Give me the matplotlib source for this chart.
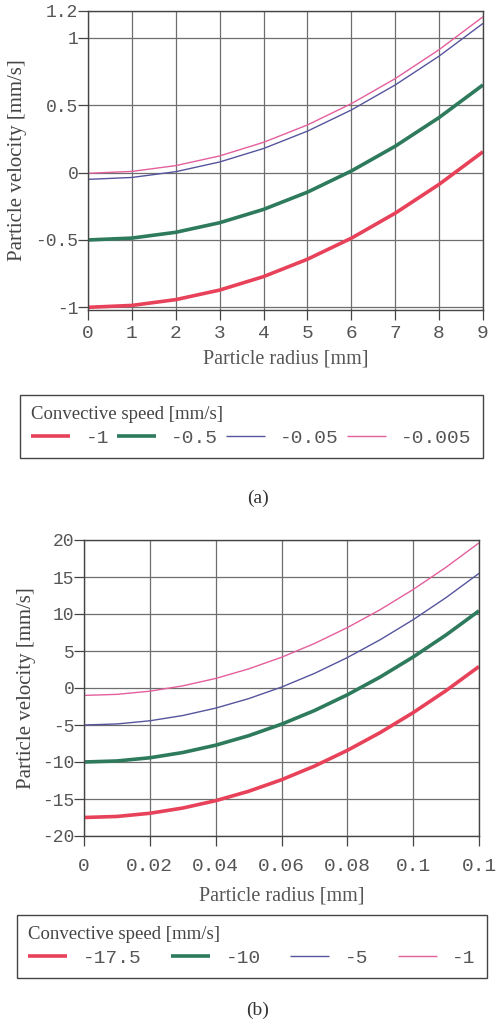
import numpy as np
import matplotlib
matplotlib.use("Agg")
import matplotlib.pyplot as plt

plt.rcParams["axes.unicode_minus"] = False

# ---- data ----
# (a) particle radius [mm] vs particle velocity [mm/s]
radius_a = [0, 1, 2, 3, 4, 5, 6, 7, 8, 9]
speeds_a = ["-1", "-0.5", "-0.05", "-0.005"]
vel_a_1 = [-1.0, -0.986, -0.943, -0.872, -0.772, -0.643, -0.487, -0.301, -0.087, 0.155]
vel_a_05 = [-0.5, -0.486, -0.443, -0.372, -0.273, -0.145, 0.012, 0.196, 0.409, 0.651]
vel_a_005 = [-0.05, -0.036, 0.007, 0.079, 0.179, 0.308, 0.465, 0.651, 0.865, 1.108]
vel_a_0005 = [-0.005, 0.009, 0.052, 0.124, 0.225, 0.354, 0.512, 0.698, 0.913, 1.157]
yticks_a = [-1, -0.5, 0, 0.5, 1, 1.2]
yticklabels_a = ["-1", "-0.5", "0", "0.5", "1", "1.2"]
xticks_a = [0, 1, 2, 3, 4, 5, 6, 7, 8, 9]

# (b)
radius_b = [0, 0.01, 0.02, 0.03, 0.04, 0.05, 0.06, 0.07, 0.08, 0.09, 0.10, 0.11, 0.12]
speeds_b = ["-17.5", "-10", "-5", "-1"]
vel_b_175 = [-17.5, -17.36, -16.93, -16.22, -15.23, -13.96, -12.40, -10.56, -8.43, -6.02, -3.33, -0.35, 2.90]
vel_b_10 = [-10.0, -9.86, -9.43, -8.72, -7.73, -6.45, -4.89, -3.05, -0.92, 1.49, 4.19, 7.17, 10.43]
vel_b_5 = [-5.0, -4.86, -4.43, -3.72, -2.72, -1.44, 0.12, 1.97, 4.11, 6.53, 9.23, 12.22, 15.49]
vel_b_1 = [-1.0, -0.86, -0.43, 0.29, 1.29, 2.58, 4.15, 6.01, 8.16, 10.59, 13.31, 16.32, 19.61]
yticks_b = [-20, -15, -10, -5, 0, 5, 10, 15, 20]
xticks_b = [0, 0.02, 0.04, 0.06, 0.08, 0.10, 0.12]
xticklabels_b = ["0", "0.02", "0.04", "0.06", "0.08", "0.1", "0.1"]

colors = ["#e8425a", "#2e7a5c", "#55559e", "#e45f9c"]
widths = [2.6, 2.6, 1.0, 1.0]

MONO = "Liberation Mono"
SERIF = "Liberation Serif"
TICK_COL = "#555555"
GRID_COL = "#6e6e6e"

W, H = 500, 1029
fig = plt.figure(figsize=(W / 100, H / 100), dpi=100)


def frac(x0, y0, x1, y1):
    return [x0 / W, 1 - y1 / H, (x1 - x0) / W, (y1 - y0) / H]


def style_axes(ax, xpad):
    ax.grid(True, color=GRID_COL, linewidth=0.9)
    ax.set_axisbelow(True)
    for s in ax.spines.values():
        s.set_color("#444444")
        s.set_linewidth(1.0)
    ax.tick_params(direction="out", length=7, width=0.9, color="#444444",
                   labelcolor=TICK_COL, labelsize=14, pad=2)
    ax.tick_params(axis="x", pad=xpad)
    ax.tick_params(axis="y", labelsize=13, pad=0)
    for lab in ax.get_xticklabels() + ax.get_yticklabels():
        lab.set_fontfamily(MONO)


def add_legend(handles, box):
    leg = fig.legend(handles=handles, loc="upper left",
                     bbox_to_anchor=box, mode="expand",
                     ncol=4, title="Convective speed [mm/s]", alignment="left",
                     prop={"family": MONO, "size": 14}, handlelength=2.0,
                     handletextpad=0.8, columnspacing=0.3, borderpad=0.6,
                     labelspacing=0.3, fancybox=False, edgecolor="#444444", framealpha=1)
    leg.get_title().set_fontfamily(SERIF)
    leg.get_title().set_fontsize(13.5)
    leg.get_title().set_color("#444444")
    for t in leg.get_texts():
        t.set_color(TICK_COL)
    leg.get_frame().set_linewidth(1.0)
    return leg


# ---- panel (a) ----
ax1 = fig.add_axes(frac(88, 11, 483, 310))
series_a = [vel_a_1, vel_a_05, vel_a_005, vel_a_0005]
lines_a = []
for v, c, lw, lab in zip(series_a, colors, widths, speeds_a):
    (ln,) = ax1.plot(radius_a, v, color=c, linewidth=lw, label=lab, solid_capstyle="butt")
    lines_a.append(ln)
ax1.set_xlim(0, 9)
ax1.set_ylim(-1.02, 1.2)
ax1.set_xticks(xticks_a)
ax1.set_yticks(yticks_a)
ax1.set_yticklabels(yticklabels_a)
style_axes(ax1, 4)
ax1.set_ylabel("Particle velocity [mm/s]", family=SERIF, fontsize=15, color="#444444", labelpad=6)
ax1.set_xlabel("Particle radius [mm]", family=SERIF, fontsize=14.5, color="#555555", labelpad=5)

add_legend(lines_a, (10 / W, 1 - 460 / H, 483 / W, 75 / H))

fig.text(258 / W, 1 - 498 / H, "(a)", family=SERIF, fontsize=14, color="#333333",
         ha="center", va="center")

# ---- panel (b) ----
ax2 = fig.add_axes(frac(84, 540, 479, 836))
series_b = [vel_b_175, vel_b_10, vel_b_5, vel_b_1]
lines_b = []
for v, c, lw, lab in zip(series_b, colors, widths, speeds_b):
    (ln,) = ax2.plot(radius_b, v, color=c, linewidth=lw, label=lab, solid_capstyle="butt")
    lines_b.append(ln)
ax2.set_xlim(0, 0.12)
ax2.set_ylim(-20, 20)
ax2.set_xticks(xticks_b)
ax2.set_xticklabels(xticklabels_b)
ax2.set_yticks(yticks_b)
style_axes(ax2, 9)
ax2.set_ylabel("Particle velocity [mm/s]", family=SERIF, fontsize=15, color="#444444", labelpad=4)
ax2.set_xlabel("Particle radius [mm]", family=SERIF, fontsize=14.5, color="#555555", labelpad=8)

add_legend(lines_b, (7 / W, 1 - 980 / H, 490 / W, 75 / H))

fig.text(258 / W, 1 - 1010 / H, "(b)", family=SERIF, fontsize=14, color="#333333",
         ha="center", va="center")

fig.savefig("out.png", dpi=100, facecolor="white")
